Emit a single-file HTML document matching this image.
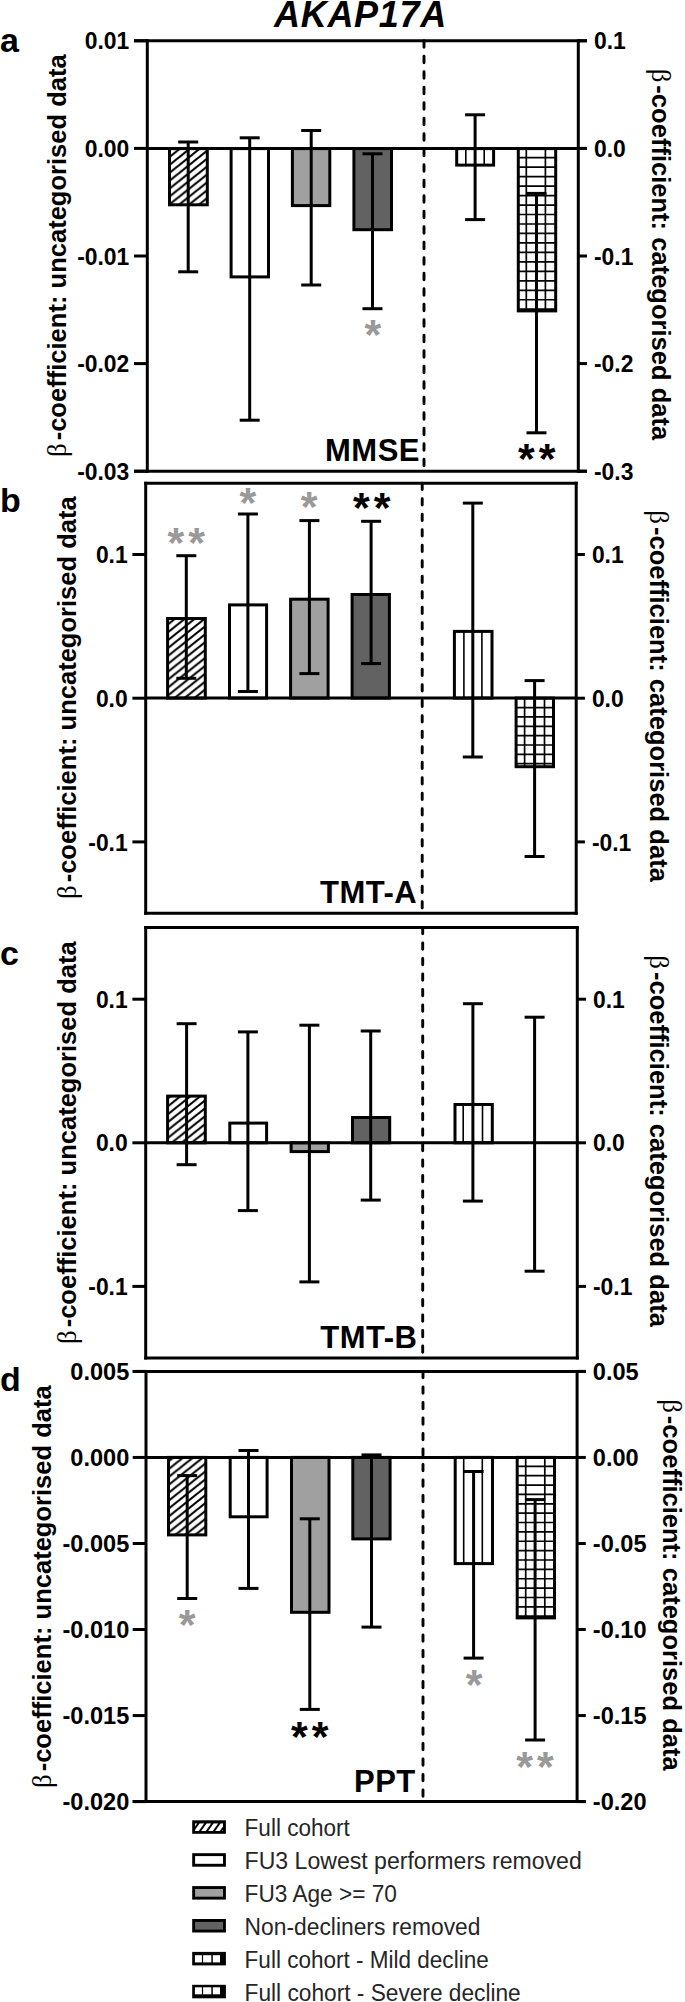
<!DOCTYPE html>
<html><head><meta charset="utf-8"><style>
html,body{margin:0;padding:0;background:#fff;}
body{width:685px;height:2002px;overflow:hidden;}
svg{display:block;}
text{font-family:"Liberation Sans", sans-serif;}
.tk{font-size:22.9px;font-weight:bold;}
.st{font-size:43px;font-weight:bold;letter-spacing:4px;}
.lab{font-size:31px;font-weight:bold;letter-spacing:0.5px;}
.yl{font-size:26px;font-weight:bold;}
.beta{font-family:"Liberation Serif", serif;font-weight:normal;font-size:1.05em;}
.title{font-size:36px;font-weight:bold;font-style:italic;letter-spacing:0.7px;}
.pl{font-size:34px;font-weight:bold;}
.lg{font-size:23px;fill:#262626;}
</style></head>
<body>
<svg width="685" height="2002" viewBox="0 0 685 2002">

<defs>
 <pattern id="hatch" patternUnits="userSpaceOnUse" width="9.9" height="7.9">
  <path d="M-2.5,9.9 L12.4,-2.0" stroke="#000" stroke-width="2.1" fill="none"/>
  <path d="M-12.4,9.9 L2.5,-2.0" stroke="#000" stroke-width="2.1" fill="none"/>
  <path d="M7.4,9.9 L22.3,-2.0" stroke="#000" stroke-width="2.1" fill="none"/>
 </pattern>
 <pattern id="vstripe" patternUnits="userSpaceOnUse" width="9.3" height="10" x="0">
  <rect x="0" y="0" width="9.3" height="10" fill="#fff"/>
  <rect x="0" y="0" width="1.6" height="10" fill="#000"/>
 </pattern>
 <pattern id="grid" patternUnits="userSpaceOnUse" width="9.35" height="9.3">
  <rect x="0" y="0" width="9.35" height="9.3" fill="#fff"/>
  <rect x="0" y="0" width="1.7" height="9.3" fill="#000"/>
  <rect x="0" y="0" width="9.35" height="1.7" fill="#000"/>
 </pattern>
</defs>

<rect width="685" height="2002" fill="#fff"/>
<text x="274" y="26.9" class="title">AKAP17A</text>
<text x="0" y="52" class="pl">a</text>
<text x="0" y="512" class="pl">b</text>
<text x="0" y="965.3" class="pl">c</text>
<text x="0" y="1390.5" class="pl">d</text>
<rect x="169.50" y="148.60" width="37.80" height="56.20" fill="url(#hatch)" stroke="#000" stroke-width="3.0"/>
<rect x="231.10" y="148.60" width="37.40" height="128.30" fill="#fff" stroke="#000" stroke-width="3.0"/>
<rect x="292.40" y="148.60" width="37.40" height="57.00" fill="#a0a0a0" stroke="#000" stroke-width="3.0"/>
<rect x="353.90" y="148.60" width="37.60" height="81.10" fill="#626262" stroke="#000" stroke-width="3.0"/>
<rect x="456.70" y="148.60" width="36.90" height="16.50" fill="#fff"/>
<line x1="465.80" y1="148.60" x2="465.80" y2="165.10" stroke="#000" stroke-width="1.6"/>
<line x1="484.20" y1="148.60" x2="484.20" y2="165.10" stroke="#000" stroke-width="1.6"/>
<rect x="456.70" y="148.60" width="36.90" height="16.50" fill="none" stroke="#000" stroke-width="3.0"/>
<rect x="518.30" y="148.60" width="37.40" height="162.30" fill="#fff"/>
<line x1="526.30" y1="148.60" x2="526.30" y2="310.90" stroke="#000" stroke-width="1.7"/>
<line x1="545.40" y1="148.60" x2="545.40" y2="310.90" stroke="#000" stroke-width="1.7"/>
<line x1="518.30" y1="157.70" x2="555.70" y2="157.70" stroke="#000" stroke-width="1.7"/>
<line x1="518.30" y1="167.17" x2="555.70" y2="167.17" stroke="#000" stroke-width="1.7"/>
<line x1="518.30" y1="176.64" x2="555.70" y2="176.64" stroke="#000" stroke-width="1.7"/>
<line x1="518.30" y1="186.11" x2="555.70" y2="186.11" stroke="#000" stroke-width="1.7"/>
<line x1="518.30" y1="195.58" x2="555.70" y2="195.58" stroke="#000" stroke-width="1.7"/>
<line x1="518.30" y1="205.05" x2="555.70" y2="205.05" stroke="#000" stroke-width="1.7"/>
<line x1="518.30" y1="214.52" x2="555.70" y2="214.52" stroke="#000" stroke-width="1.7"/>
<line x1="518.30" y1="223.99" x2="555.70" y2="223.99" stroke="#000" stroke-width="1.7"/>
<line x1="518.30" y1="233.46" x2="555.70" y2="233.46" stroke="#000" stroke-width="1.7"/>
<line x1="518.30" y1="242.93" x2="555.70" y2="242.93" stroke="#000" stroke-width="1.7"/>
<line x1="518.30" y1="252.40" x2="555.70" y2="252.40" stroke="#000" stroke-width="1.7"/>
<line x1="518.30" y1="261.87" x2="555.70" y2="261.87" stroke="#000" stroke-width="1.7"/>
<line x1="518.30" y1="271.34" x2="555.70" y2="271.34" stroke="#000" stroke-width="1.7"/>
<line x1="518.30" y1="280.81" x2="555.70" y2="280.81" stroke="#000" stroke-width="1.7"/>
<line x1="518.30" y1="290.28" x2="555.70" y2="290.28" stroke="#000" stroke-width="1.7"/>
<line x1="518.30" y1="299.75" x2="555.70" y2="299.75" stroke="#000" stroke-width="1.7"/>
<line x1="518.30" y1="309.22" x2="555.70" y2="309.22" stroke="#000" stroke-width="1.7"/>
<rect x="518.30" y="148.60" width="37.40" height="162.30" fill="none" stroke="#000" stroke-width="3.0"/>
<line x1="188.20" y1="142.00" x2="188.20" y2="271.80" stroke="#000" stroke-width="3.0"/>
<line x1="178.20" y1="142.00" x2="198.20" y2="142.00" stroke="#000" stroke-width="3.0"/>
<line x1="178.20" y1="271.80" x2="198.20" y2="271.80" stroke="#000" stroke-width="3.0"/>
<line x1="249.70" y1="137.80" x2="249.70" y2="420.20" stroke="#000" stroke-width="3.0"/>
<line x1="239.70" y1="137.80" x2="259.70" y2="137.80" stroke="#000" stroke-width="3.0"/>
<line x1="239.70" y1="420.20" x2="259.70" y2="420.20" stroke="#000" stroke-width="3.0"/>
<line x1="311.20" y1="130.50" x2="311.20" y2="285.00" stroke="#000" stroke-width="3.0"/>
<line x1="301.20" y1="130.50" x2="321.20" y2="130.50" stroke="#000" stroke-width="3.0"/>
<line x1="301.20" y1="285.00" x2="321.20" y2="285.00" stroke="#000" stroke-width="3.0"/>
<line x1="372.50" y1="153.80" x2="372.50" y2="308.70" stroke="#000" stroke-width="3.0"/>
<line x1="362.50" y1="153.80" x2="382.50" y2="153.80" stroke="#000" stroke-width="3.0"/>
<line x1="362.50" y1="308.70" x2="382.50" y2="308.70" stroke="#000" stroke-width="3.0"/>
<line x1="475.10" y1="114.80" x2="475.10" y2="219.60" stroke="#000" stroke-width="3.0"/>
<line x1="465.10" y1="114.80" x2="485.10" y2="114.80" stroke="#000" stroke-width="3.0"/>
<line x1="465.10" y1="219.60" x2="485.10" y2="219.60" stroke="#000" stroke-width="3.0"/>
<line x1="536.50" y1="193.40" x2="536.50" y2="432.80" stroke="#000" stroke-width="3.0"/>
<line x1="526.50" y1="193.40" x2="546.50" y2="193.40" stroke="#000" stroke-width="3.0"/>
<line x1="526.50" y1="432.80" x2="546.50" y2="432.80" stroke="#000" stroke-width="3.0"/>
<line x1="134.00" y1="40.8" x2="587.00" y2="40.8" stroke="#000" stroke-width="3.0"/>
<line x1="134.00" y1="471.2" x2="587.00" y2="471.2" stroke="#000" stroke-width="3.0"/>
<line x1="147.3" y1="39.3" x2="147.3" y2="472.7" stroke="#000" stroke-width="3.0"/>
<line x1="578.3" y1="39.3" x2="578.3" y2="472.7" stroke="#000" stroke-width="3.0"/>
<line x1="147.3" y1="148.6" x2="578.3" y2="148.6" stroke="#000" stroke-width="3.0"/>
<line x1="424.0" y1="40.8" x2="424.0" y2="471.2" stroke="#000" stroke-width="2.9" stroke-linecap="round" stroke-dasharray="6.4 9.1"/>
<line x1="134.00" y1="40.80" x2="147.3" y2="40.80" stroke="#000" stroke-width="3.0"/>
<text transform="translate(129.30,49.45) scale(1,1.055)" text-anchor="end" class="tk" style="font-size:22.9px">0.01</text>
<line x1="134.00" y1="148.40" x2="147.3" y2="148.40" stroke="#000" stroke-width="3.0"/>
<text transform="translate(129.30,157.05) scale(1,1.055)" text-anchor="end" class="tk" style="font-size:22.9px">0.00</text>
<line x1="134.00" y1="256.00" x2="147.3" y2="256.00" stroke="#000" stroke-width="3.0"/>
<text transform="translate(129.30,264.65) scale(1,1.055)" text-anchor="end" class="tk" style="font-size:22.9px">-0.01</text>
<line x1="134.00" y1="363.60" x2="147.3" y2="363.60" stroke="#000" stroke-width="3.0"/>
<text transform="translate(129.30,372.25) scale(1,1.055)" text-anchor="end" class="tk" style="font-size:22.9px">-0.02</text>
<line x1="134.00" y1="471.20" x2="147.3" y2="471.20" stroke="#000" stroke-width="3.0"/>
<text transform="translate(129.30,479.85) scale(1,1.055)" text-anchor="end" class="tk" style="font-size:22.9px">-0.03</text>
<line x1="578.3" y1="40.80" x2="587.00" y2="40.80" stroke="#000" stroke-width="3.0"/>
<text transform="translate(594.00,49.45) scale(1,1.055)" class="tk" style="font-size:22.9px">0.1</text>
<line x1="578.3" y1="148.40" x2="587.00" y2="148.40" stroke="#000" stroke-width="3.0"/>
<text transform="translate(594.00,157.05) scale(1,1.055)" class="tk" style="font-size:22.9px">0.0</text>
<line x1="578.3" y1="256.00" x2="587.00" y2="256.00" stroke="#000" stroke-width="3.0"/>
<text transform="translate(594.00,264.65) scale(1,1.055)" class="tk" style="font-size:22.9px">-0.1</text>
<line x1="578.3" y1="363.60" x2="587.00" y2="363.60" stroke="#000" stroke-width="3.0"/>
<text transform="translate(594.00,372.25) scale(1,1.055)" class="tk" style="font-size:22.9px">-0.2</text>
<line x1="578.3" y1="471.20" x2="587.00" y2="471.20" stroke="#000" stroke-width="3.0"/>
<text transform="translate(594.00,479.85) scale(1,1.055)" class="tk" style="font-size:22.9px">-0.3</text>
<text x="374.90" y="349.40" text-anchor="middle" class="st" fill="#999999">*</text>
<text x="538.70" y="473.40" text-anchor="middle" class="st" fill="#000">**</text>
<text x="325.0" y="461.0" class="lab">MMSE</text>
<text transform="translate(66.3,457.0) rotate(-90)" class="yl" style="font-size:25.55px"><tspan class="beta">&#946;</tspan><tspan dx="3">-coefficient: uncategorised data</tspan></text>
<text transform="translate(651.7,68.7) rotate(90)" class="yl" style="font-size:25.55px"><tspan class="beta">&#946;</tspan><tspan dx="3">-coefficient: categorised data</tspan></text>
<rect x="167.60" y="618.50" width="37.70" height="79.60" fill="url(#hatch)" stroke="#000" stroke-width="3.0"/>
<rect x="229.50" y="604.90" width="37.10" height="93.20" fill="#fff" stroke="#000" stroke-width="3.0"/>
<rect x="290.60" y="599.20" width="37.50" height="98.90" fill="#a0a0a0" stroke="#000" stroke-width="3.0"/>
<rect x="352.10" y="594.50" width="37.30" height="103.60" fill="#626262" stroke="#000" stroke-width="3.0"/>
<rect x="454.40" y="631.40" width="37.60" height="66.70" fill="#fff"/>
<line x1="463.90" y1="631.40" x2="463.90" y2="698.10" stroke="#000" stroke-width="1.6"/>
<line x1="481.90" y1="631.40" x2="481.90" y2="698.10" stroke="#000" stroke-width="1.6"/>
<rect x="454.40" y="631.40" width="37.60" height="66.70" fill="none" stroke="#000" stroke-width="3.0"/>
<rect x="516.10" y="698.10" width="37.40" height="68.60" fill="#fff"/>
<line x1="524.60" y1="698.10" x2="524.60" y2="766.70" stroke="#000" stroke-width="1.7"/>
<line x1="544.50" y1="698.10" x2="544.50" y2="766.70" stroke="#000" stroke-width="1.7"/>
<line x1="516.10" y1="707.60" x2="553.50" y2="707.60" stroke="#000" stroke-width="1.7"/>
<line x1="516.10" y1="716.95" x2="553.50" y2="716.95" stroke="#000" stroke-width="1.7"/>
<line x1="516.10" y1="726.30" x2="553.50" y2="726.30" stroke="#000" stroke-width="1.7"/>
<line x1="516.10" y1="735.65" x2="553.50" y2="735.65" stroke="#000" stroke-width="1.7"/>
<line x1="516.10" y1="745.00" x2="553.50" y2="745.00" stroke="#000" stroke-width="1.7"/>
<line x1="516.10" y1="754.35" x2="553.50" y2="754.35" stroke="#000" stroke-width="1.7"/>
<line x1="516.10" y1="763.70" x2="553.50" y2="763.70" stroke="#000" stroke-width="1.7"/>
<rect x="516.10" y="698.10" width="37.40" height="68.60" fill="none" stroke="#000" stroke-width="3.0"/>
<line x1="186.30" y1="555.70" x2="186.30" y2="678.30" stroke="#000" stroke-width="3.0"/>
<line x1="176.30" y1="555.70" x2="196.30" y2="555.70" stroke="#000" stroke-width="3.0"/>
<line x1="176.30" y1="678.30" x2="196.30" y2="678.30" stroke="#000" stroke-width="3.0"/>
<line x1="247.90" y1="514.00" x2="247.90" y2="691.50" stroke="#000" stroke-width="3.0"/>
<line x1="237.90" y1="514.00" x2="257.90" y2="514.00" stroke="#000" stroke-width="3.0"/>
<line x1="237.90" y1="691.50" x2="257.90" y2="691.50" stroke="#000" stroke-width="3.0"/>
<line x1="309.40" y1="520.60" x2="309.40" y2="673.60" stroke="#000" stroke-width="3.0"/>
<line x1="299.40" y1="520.60" x2="319.40" y2="520.60" stroke="#000" stroke-width="3.0"/>
<line x1="299.40" y1="673.60" x2="319.40" y2="673.60" stroke="#000" stroke-width="3.0"/>
<line x1="371.10" y1="521.30" x2="371.10" y2="663.60" stroke="#000" stroke-width="3.0"/>
<line x1="361.10" y1="521.30" x2="381.10" y2="521.30" stroke="#000" stroke-width="3.0"/>
<line x1="361.10" y1="663.60" x2="381.10" y2="663.60" stroke="#000" stroke-width="3.0"/>
<line x1="472.80" y1="503.10" x2="472.80" y2="757.00" stroke="#000" stroke-width="3.0"/>
<line x1="462.80" y1="503.10" x2="482.80" y2="503.10" stroke="#000" stroke-width="3.0"/>
<line x1="462.80" y1="757.00" x2="482.80" y2="757.00" stroke="#000" stroke-width="3.0"/>
<line x1="534.60" y1="680.60" x2="534.60" y2="856.50" stroke="#000" stroke-width="3.0"/>
<line x1="524.60" y1="680.60" x2="544.60" y2="680.60" stroke="#000" stroke-width="3.0"/>
<line x1="524.60" y1="856.50" x2="544.60" y2="856.50" stroke="#000" stroke-width="3.0"/>
<line x1="144.20" y1="483.2" x2="577.70" y2="483.2" stroke="#000" stroke-width="3.0"/>
<line x1="144.20" y1="913.3" x2="577.70" y2="913.3" stroke="#000" stroke-width="3.0"/>
<line x1="145.7" y1="481.7" x2="145.7" y2="914.8" stroke="#000" stroke-width="3.0"/>
<line x1="576.2" y1="481.7" x2="576.2" y2="914.8" stroke="#000" stroke-width="3.0"/>
<line x1="145.7" y1="698.1" x2="576.2" y2="698.1" stroke="#000" stroke-width="3.0"/>
<line x1="422.2" y1="483.2" x2="422.2" y2="913.3" stroke="#000" stroke-width="2.9" stroke-linecap="round" stroke-dasharray="6.4 9.1"/>
<line x1="132.40" y1="554.50" x2="145.7" y2="554.50" stroke="#000" stroke-width="3.0"/>
<text transform="translate(127.70,563.15) scale(1,1.055)" text-anchor="end" class="tk" style="font-size:22.9px">0.1</text>
<line x1="132.40" y1="698.20" x2="145.7" y2="698.20" stroke="#000" stroke-width="3.0"/>
<text transform="translate(127.70,706.85) scale(1,1.055)" text-anchor="end" class="tk" style="font-size:22.9px">0.0</text>
<line x1="132.40" y1="841.90" x2="145.7" y2="841.90" stroke="#000" stroke-width="3.0"/>
<text transform="translate(127.70,850.55) scale(1,1.055)" text-anchor="end" class="tk" style="font-size:22.9px">-0.1</text>
<line x1="576.2" y1="554.50" x2="584.90" y2="554.50" stroke="#000" stroke-width="3.0"/>
<text transform="translate(591.90,563.15) scale(1,1.055)" class="tk" style="font-size:22.9px">0.1</text>
<line x1="576.2" y1="698.20" x2="584.90" y2="698.20" stroke="#000" stroke-width="3.0"/>
<text transform="translate(591.90,706.85) scale(1,1.055)" class="tk" style="font-size:22.9px">0.0</text>
<line x1="576.2" y1="841.90" x2="584.90" y2="841.90" stroke="#000" stroke-width="3.0"/>
<text transform="translate(591.90,850.55) scale(1,1.055)" class="tk" style="font-size:22.9px">-0.1</text>
<text x="188.30" y="556.80" text-anchor="middle" class="st" fill="#999999">**</text>
<text x="249.90" y="516.80" text-anchor="middle" class="st" fill="#999999">*</text>
<text x="311.20" y="521.00" text-anchor="middle" class="st" fill="#999999">*</text>
<text x="373.80" y="521.90" text-anchor="middle" class="st" fill="#000">**</text>
<text x="320.0" y="903.1" class="lab">TMT-A</text>
<text transform="translate(76.3,899.0) rotate(-90)" class="yl" style="font-size:25.55px"><tspan class="beta">&#946;</tspan><tspan dx="3">-coefficient: uncategorised data</tspan></text>
<text transform="translate(649.5,510.3) rotate(90)" class="yl" style="font-size:25.55px"><tspan class="beta">&#946;</tspan><tspan dx="3">-coefficient: categorised data</tspan></text>
<rect x="167.60" y="1096.10" width="37.70" height="46.70" fill="url(#hatch)" stroke="#000" stroke-width="3.0"/>
<rect x="229.80" y="1123.10" width="36.80" height="19.70" fill="#fff" stroke="#000" stroke-width="3.0"/>
<rect x="291.10" y="1142.80" width="37.30" height="8.80" fill="#a0a0a0" stroke="#000" stroke-width="3.0"/>
<rect x="352.50" y="1117.50" width="37.20" height="25.30" fill="#626262" stroke="#000" stroke-width="3.0"/>
<rect x="455.00" y="1104.50" width="37.30" height="38.30" fill="#fff"/>
<line x1="463.20" y1="1104.50" x2="463.20" y2="1142.80" stroke="#000" stroke-width="1.6"/>
<line x1="482.50" y1="1104.50" x2="482.50" y2="1142.80" stroke="#000" stroke-width="1.6"/>
<rect x="455.00" y="1104.50" width="37.30" height="38.30" fill="none" stroke="#000" stroke-width="3.0"/>
<line x1="186.60" y1="1023.70" x2="186.60" y2="1164.70" stroke="#000" stroke-width="3.0"/>
<line x1="176.60" y1="1023.70" x2="196.60" y2="1023.70" stroke="#000" stroke-width="3.0"/>
<line x1="176.60" y1="1164.70" x2="196.60" y2="1164.70" stroke="#000" stroke-width="3.0"/>
<line x1="247.90" y1="1031.90" x2="247.90" y2="1210.60" stroke="#000" stroke-width="3.0"/>
<line x1="237.90" y1="1031.90" x2="257.90" y2="1031.90" stroke="#000" stroke-width="3.0"/>
<line x1="237.90" y1="1210.60" x2="257.90" y2="1210.60" stroke="#000" stroke-width="3.0"/>
<line x1="309.40" y1="1025.20" x2="309.40" y2="1281.90" stroke="#000" stroke-width="3.0"/>
<line x1="299.40" y1="1025.20" x2="319.40" y2="1025.20" stroke="#000" stroke-width="3.0"/>
<line x1="299.40" y1="1281.90" x2="319.40" y2="1281.90" stroke="#000" stroke-width="3.0"/>
<line x1="370.70" y1="1031.00" x2="370.70" y2="1200.10" stroke="#000" stroke-width="3.0"/>
<line x1="360.70" y1="1031.00" x2="380.70" y2="1031.00" stroke="#000" stroke-width="3.0"/>
<line x1="360.70" y1="1200.10" x2="380.70" y2="1200.10" stroke="#000" stroke-width="3.0"/>
<line x1="472.90" y1="1003.70" x2="472.90" y2="1201.10" stroke="#000" stroke-width="3.0"/>
<line x1="462.90" y1="1003.70" x2="482.90" y2="1003.70" stroke="#000" stroke-width="3.0"/>
<line x1="462.90" y1="1201.10" x2="482.90" y2="1201.10" stroke="#000" stroke-width="3.0"/>
<line x1="534.60" y1="1017.20" x2="534.60" y2="1271.20" stroke="#000" stroke-width="3.0"/>
<line x1="524.60" y1="1017.20" x2="544.60" y2="1017.20" stroke="#000" stroke-width="3.0"/>
<line x1="524.60" y1="1271.20" x2="544.60" y2="1271.20" stroke="#000" stroke-width="3.0"/>
<line x1="144.20" y1="927.4" x2="578.80" y2="927.4" stroke="#000" stroke-width="3.0"/>
<line x1="144.20" y1="1358.1" x2="578.80" y2="1358.1" stroke="#000" stroke-width="3.0"/>
<line x1="145.7" y1="925.9" x2="145.7" y2="1359.6" stroke="#000" stroke-width="3.0"/>
<line x1="577.3" y1="925.9" x2="577.3" y2="1359.6" stroke="#000" stroke-width="3.0"/>
<line x1="145.7" y1="1142.8" x2="577.3" y2="1142.8" stroke="#000" stroke-width="3.0"/>
<line x1="422.7" y1="927.4" x2="422.7" y2="1358.1" stroke="#000" stroke-width="2.9" stroke-linecap="round" stroke-dasharray="6.4 9.1"/>
<line x1="132.40" y1="999.20" x2="145.7" y2="999.20" stroke="#000" stroke-width="3.0"/>
<text transform="translate(127.70,1007.85) scale(1,1.055)" text-anchor="end" class="tk" style="font-size:22.9px">0.1</text>
<line x1="132.40" y1="1142.80" x2="145.7" y2="1142.80" stroke="#000" stroke-width="3.0"/>
<text transform="translate(127.70,1151.45) scale(1,1.055)" text-anchor="end" class="tk" style="font-size:22.9px">0.0</text>
<line x1="132.40" y1="1286.40" x2="145.7" y2="1286.40" stroke="#000" stroke-width="3.0"/>
<text transform="translate(127.70,1295.05) scale(1,1.055)" text-anchor="end" class="tk" style="font-size:22.9px">-0.1</text>
<line x1="577.3" y1="999.20" x2="586.00" y2="999.20" stroke="#000" stroke-width="3.0"/>
<text transform="translate(593.00,1007.85) scale(1,1.055)" class="tk" style="font-size:22.9px">0.1</text>
<line x1="577.3" y1="1142.80" x2="586.00" y2="1142.80" stroke="#000" stroke-width="3.0"/>
<text transform="translate(593.00,1151.45) scale(1,1.055)" class="tk" style="font-size:22.9px">0.0</text>
<line x1="577.3" y1="1286.40" x2="586.00" y2="1286.40" stroke="#000" stroke-width="3.0"/>
<text transform="translate(593.00,1295.05) scale(1,1.055)" class="tk" style="font-size:22.9px">-0.1</text>
<text x="320.3" y="1347.8" class="lab">TMT-B</text>
<text transform="translate(76.4,1344.0) rotate(-90)" class="yl" style="font-size:25.55px"><tspan class="beta">&#946;</tspan><tspan dx="3">-coefficient: uncategorised data</tspan></text>
<text transform="translate(649.5,955.3) rotate(90)" class="yl" style="font-size:25.55px"><tspan class="beta">&#946;</tspan><tspan dx="3">-coefficient: categorised data</tspan></text>
<rect x="168.50" y="1457.40" width="37.30" height="77.50" fill="url(#hatch)" stroke="#000" stroke-width="3.0"/>
<rect x="230.20" y="1457.40" width="36.90" height="59.40" fill="#fff" stroke="#000" stroke-width="3.0"/>
<rect x="291.50" y="1457.40" width="37.50" height="154.90" fill="#a0a0a0" stroke="#000" stroke-width="3.0"/>
<rect x="352.80" y="1457.40" width="37.30" height="81.50" fill="#626262" stroke="#000" stroke-width="3.0"/>
<rect x="455.20" y="1457.40" width="37.30" height="106.20" fill="#fff"/>
<line x1="463.70" y1="1457.40" x2="463.70" y2="1563.60" stroke="#000" stroke-width="1.6"/>
<line x1="482.30" y1="1457.40" x2="482.30" y2="1563.60" stroke="#000" stroke-width="1.6"/>
<rect x="455.20" y="1457.40" width="37.30" height="106.20" fill="none" stroke="#000" stroke-width="3.0"/>
<rect x="517.20" y="1457.40" width="37.30" height="160.50" fill="#fff"/>
<line x1="525.70" y1="1457.40" x2="525.70" y2="1617.90" stroke="#000" stroke-width="1.7"/>
<line x1="544.80" y1="1457.40" x2="544.80" y2="1617.90" stroke="#000" stroke-width="1.7"/>
<line x1="517.20" y1="1466.30" x2="554.50" y2="1466.30" stroke="#000" stroke-width="1.7"/>
<line x1="517.20" y1="1475.67" x2="554.50" y2="1475.67" stroke="#000" stroke-width="1.7"/>
<line x1="517.20" y1="1485.04" x2="554.50" y2="1485.04" stroke="#000" stroke-width="1.7"/>
<line x1="517.20" y1="1494.41" x2="554.50" y2="1494.41" stroke="#000" stroke-width="1.7"/>
<line x1="517.20" y1="1503.78" x2="554.50" y2="1503.78" stroke="#000" stroke-width="1.7"/>
<line x1="517.20" y1="1513.15" x2="554.50" y2="1513.15" stroke="#000" stroke-width="1.7"/>
<line x1="517.20" y1="1522.52" x2="554.50" y2="1522.52" stroke="#000" stroke-width="1.7"/>
<line x1="517.20" y1="1531.89" x2="554.50" y2="1531.89" stroke="#000" stroke-width="1.7"/>
<line x1="517.20" y1="1541.26" x2="554.50" y2="1541.26" stroke="#000" stroke-width="1.7"/>
<line x1="517.20" y1="1550.63" x2="554.50" y2="1550.63" stroke="#000" stroke-width="1.7"/>
<line x1="517.20" y1="1560.00" x2="554.50" y2="1560.00" stroke="#000" stroke-width="1.7"/>
<line x1="517.20" y1="1569.37" x2="554.50" y2="1569.37" stroke="#000" stroke-width="1.7"/>
<line x1="517.20" y1="1578.74" x2="554.50" y2="1578.74" stroke="#000" stroke-width="1.7"/>
<line x1="517.20" y1="1588.11" x2="554.50" y2="1588.11" stroke="#000" stroke-width="1.7"/>
<line x1="517.20" y1="1597.48" x2="554.50" y2="1597.48" stroke="#000" stroke-width="1.7"/>
<line x1="517.20" y1="1606.85" x2="554.50" y2="1606.85" stroke="#000" stroke-width="1.7"/>
<line x1="517.20" y1="1616.22" x2="554.50" y2="1616.22" stroke="#000" stroke-width="1.7"/>
<rect x="517.20" y="1457.40" width="37.30" height="160.50" fill="none" stroke="#000" stroke-width="3.0"/>
<line x1="187.20" y1="1475.60" x2="187.20" y2="1598.50" stroke="#000" stroke-width="3.0"/>
<line x1="177.20" y1="1475.60" x2="197.20" y2="1475.60" stroke="#000" stroke-width="3.0"/>
<line x1="177.20" y1="1598.50" x2="197.20" y2="1598.50" stroke="#000" stroke-width="3.0"/>
<line x1="248.50" y1="1450.50" x2="248.50" y2="1588.40" stroke="#000" stroke-width="3.0"/>
<line x1="238.50" y1="1450.50" x2="258.50" y2="1450.50" stroke="#000" stroke-width="3.0"/>
<line x1="238.50" y1="1588.40" x2="258.50" y2="1588.40" stroke="#000" stroke-width="3.0"/>
<line x1="309.80" y1="1518.80" x2="309.80" y2="1709.40" stroke="#000" stroke-width="3.0"/>
<line x1="299.80" y1="1518.80" x2="319.80" y2="1518.80" stroke="#000" stroke-width="3.0"/>
<line x1="299.80" y1="1709.40" x2="319.80" y2="1709.40" stroke="#000" stroke-width="3.0"/>
<line x1="371.50" y1="1454.90" x2="371.50" y2="1627.10" stroke="#000" stroke-width="3.0"/>
<line x1="361.50" y1="1454.90" x2="381.50" y2="1454.90" stroke="#000" stroke-width="3.0"/>
<line x1="361.50" y1="1627.10" x2="381.50" y2="1627.10" stroke="#000" stroke-width="3.0"/>
<line x1="473.60" y1="1471.50" x2="473.60" y2="1658.10" stroke="#000" stroke-width="3.0"/>
<line x1="463.60" y1="1471.50" x2="483.60" y2="1471.50" stroke="#000" stroke-width="3.0"/>
<line x1="463.60" y1="1658.10" x2="483.60" y2="1658.10" stroke="#000" stroke-width="3.0"/>
<line x1="535.10" y1="1499.60" x2="535.10" y2="1740.00" stroke="#000" stroke-width="3.0"/>
<line x1="525.10" y1="1499.60" x2="545.10" y2="1499.60" stroke="#000" stroke-width="3.0"/>
<line x1="525.10" y1="1740.00" x2="545.10" y2="1740.00" stroke="#000" stroke-width="3.0"/>
<line x1="132.70" y1="1371.4" x2="585.80" y2="1371.4" stroke="#000" stroke-width="3.0"/>
<line x1="132.70" y1="1801.6" x2="585.80" y2="1801.6" stroke="#000" stroke-width="3.0"/>
<line x1="146.0" y1="1369.9" x2="146.0" y2="1803.1" stroke="#000" stroke-width="3.0"/>
<line x1="577.1" y1="1369.9" x2="577.1" y2="1803.1" stroke="#000" stroke-width="3.0"/>
<line x1="146.0" y1="1457.4" x2="577.1" y2="1457.4" stroke="#000" stroke-width="3.0"/>
<line x1="423.0" y1="1371.4" x2="423.0" y2="1801.6" stroke="#000" stroke-width="2.9" stroke-linecap="round" stroke-dasharray="6.4 9.1"/>
<line x1="132.70" y1="1371.40" x2="146.0" y2="1371.40" stroke="#000" stroke-width="3.0"/>
<text transform="translate(129.30,1380.23) scale(1,1.045)" text-anchor="end" class="tk" style="font-size:23.6px">0.005</text>
<line x1="132.70" y1="1457.44" x2="146.0" y2="1457.44" stroke="#000" stroke-width="3.0"/>
<text transform="translate(129.30,1466.27) scale(1,1.045)" text-anchor="end" class="tk" style="font-size:23.6px">0.000</text>
<line x1="132.70" y1="1543.48" x2="146.0" y2="1543.48" stroke="#000" stroke-width="3.0"/>
<text transform="translate(129.30,1552.31) scale(1,1.045)" text-anchor="end" class="tk" style="font-size:23.6px">-0.005</text>
<line x1="132.70" y1="1629.52" x2="146.0" y2="1629.52" stroke="#000" stroke-width="3.0"/>
<text transform="translate(129.30,1638.35) scale(1,1.045)" text-anchor="end" class="tk" style="font-size:23.6px">-0.010</text>
<line x1="132.70" y1="1715.56" x2="146.0" y2="1715.56" stroke="#000" stroke-width="3.0"/>
<text transform="translate(129.30,1724.39) scale(1,1.045)" text-anchor="end" class="tk" style="font-size:23.6px">-0.015</text>
<line x1="132.70" y1="1801.60" x2="146.0" y2="1801.60" stroke="#000" stroke-width="3.0"/>
<text transform="translate(129.30,1810.43) scale(1,1.045)" text-anchor="end" class="tk" style="font-size:23.6px">-0.020</text>
<line x1="577.1" y1="1371.40" x2="585.80" y2="1371.40" stroke="#000" stroke-width="3.0"/>
<text transform="translate(592.80,1380.23) scale(1,1.045)" class="tk" style="font-size:23.6px">0.05</text>
<line x1="577.1" y1="1457.44" x2="585.80" y2="1457.44" stroke="#000" stroke-width="3.0"/>
<text transform="translate(592.80,1466.27) scale(1,1.045)" class="tk" style="font-size:23.6px">0.00</text>
<line x1="577.1" y1="1543.48" x2="585.80" y2="1543.48" stroke="#000" stroke-width="3.0"/>
<text transform="translate(592.80,1552.31) scale(1,1.045)" class="tk" style="font-size:23.6px">-0.05</text>
<line x1="577.1" y1="1629.52" x2="585.80" y2="1629.52" stroke="#000" stroke-width="3.0"/>
<text transform="translate(592.80,1638.35) scale(1,1.045)" class="tk" style="font-size:23.6px">-0.10</text>
<line x1="577.1" y1="1715.56" x2="585.80" y2="1715.56" stroke="#000" stroke-width="3.0"/>
<text transform="translate(592.80,1724.39) scale(1,1.045)" class="tk" style="font-size:23.6px">-0.15</text>
<line x1="577.1" y1="1801.60" x2="585.80" y2="1801.60" stroke="#000" stroke-width="3.0"/>
<text transform="translate(592.80,1810.43) scale(1,1.045)" class="tk" style="font-size:23.6px">-0.20</text>
<text x="189.20" y="1638.70" text-anchor="middle" class="st" fill="#999999">*</text>
<text x="311.80" y="1750.80" text-anchor="middle" class="st" fill="#000">**</text>
<text x="476.20" y="1698.60" text-anchor="middle" class="st" fill="#999999">*</text>
<text x="537.00" y="1781.00" text-anchor="middle" class="st" fill="#999999">**</text>
<text x="354.0" y="1791.6" class="lab">PPT</text>
<text transform="translate(51.4,1788.0) rotate(-90)" class="yl" style="font-size:25.55px"><tspan class="beta">&#946;</tspan><tspan dx="3">-coefficient: uncategorised data</tspan></text>
<text transform="translate(663.1,1399.2) rotate(90)" class="yl" style="font-size:25.55px"><tspan class="beta">&#946;</tspan><tspan dx="3">-coefficient: categorised data</tspan></text>
<rect x="192.20" y="1820.30" width="33.70" height="13.50" fill="#000"/>
<clipPath id="lgc0"><rect x="195.10" y="1823.20" width="27.90" height="7.70"/></clipPath>
<g clip-path="url(#lgc0)"><polygon points="187.20,1830.90 191.80,1830.90 197.30,1823.20 192.70,1823.20" fill="#fff"/><polygon points="194.20,1830.90 198.80,1830.90 204.30,1823.20 199.70,1823.20" fill="#fff"/><polygon points="201.20,1830.90 205.80,1830.90 211.30,1823.20 206.70,1823.20" fill="#fff"/><polygon points="208.20,1830.90 212.80,1830.90 218.30,1823.20 213.70,1823.20" fill="#fff"/><polygon points="215.20,1830.90 219.80,1830.90 225.30,1823.20 220.70,1823.20" fill="#fff"/><polygon points="222.20,1830.90 226.80,1830.90 232.30,1823.20 227.70,1823.20" fill="#fff"/><polygon points="229.20,1830.90 233.80,1830.90 239.30,1823.20 234.70,1823.20" fill="#fff"/></g>
<text x="244.6" y="1836.10" class="lg" textLength="105.2" lengthAdjust="spacingAndGlyphs">Full cohort</text>
<rect x="193.65" y="1854.65" width="30.80" height="10.60" fill="#fff" stroke="#000" stroke-width="2.9"/>
<text x="244.6" y="1869.00" class="lg" textLength="337.2" lengthAdjust="spacingAndGlyphs">FU3 Lowest performers removed</text>
<rect x="193.65" y="1887.55" width="30.80" height="10.60" fill="#a0a0a0" stroke="#000" stroke-width="2.9"/>
<text x="244.6" y="1901.90" class="lg" textLength="152.3" lengthAdjust="spacingAndGlyphs">FU3 Age &gt;= 70</text>
<rect x="193.65" y="1920.45" width="30.80" height="10.60" fill="#626262" stroke="#000" stroke-width="2.9"/>
<text x="244.6" y="1934.80" class="lg" textLength="235.9" lengthAdjust="spacingAndGlyphs">Non-decliners removed</text>
<rect x="192.20" y="1951.90" width="33.70" height="13.50" fill="#000"/>
<rect x="194.9" y="1955.20" width="7.00" height="7.20" fill="#fff"/>
<rect x="203.1" y="1955.20" width="8.20" height="7.20" fill="#fff"/>
<rect x="212.8" y="1955.20" width="7.20" height="7.20" fill="#fff"/>
<text x="244.6" y="1967.70" class="lg" textLength="244.1" lengthAdjust="spacingAndGlyphs">Full cohort - Mild decline</text>
<rect x="192.20" y="1984.80" width="33.70" height="13.50" fill="#000"/>
<rect x="194.9" y="1987.30" width="7.00" height="7.00" fill="#fff"/>
<rect x="203.1" y="1987.30" width="8.20" height="7.00" fill="#fff"/>
<rect x="212.8" y="1987.30" width="7.20" height="7.00" fill="#fff"/>
<text x="244.6" y="2000.60" class="lg" textLength="276.1" lengthAdjust="spacingAndGlyphs">Full cohort - Severe decline</text>
</svg>
</body></html>
